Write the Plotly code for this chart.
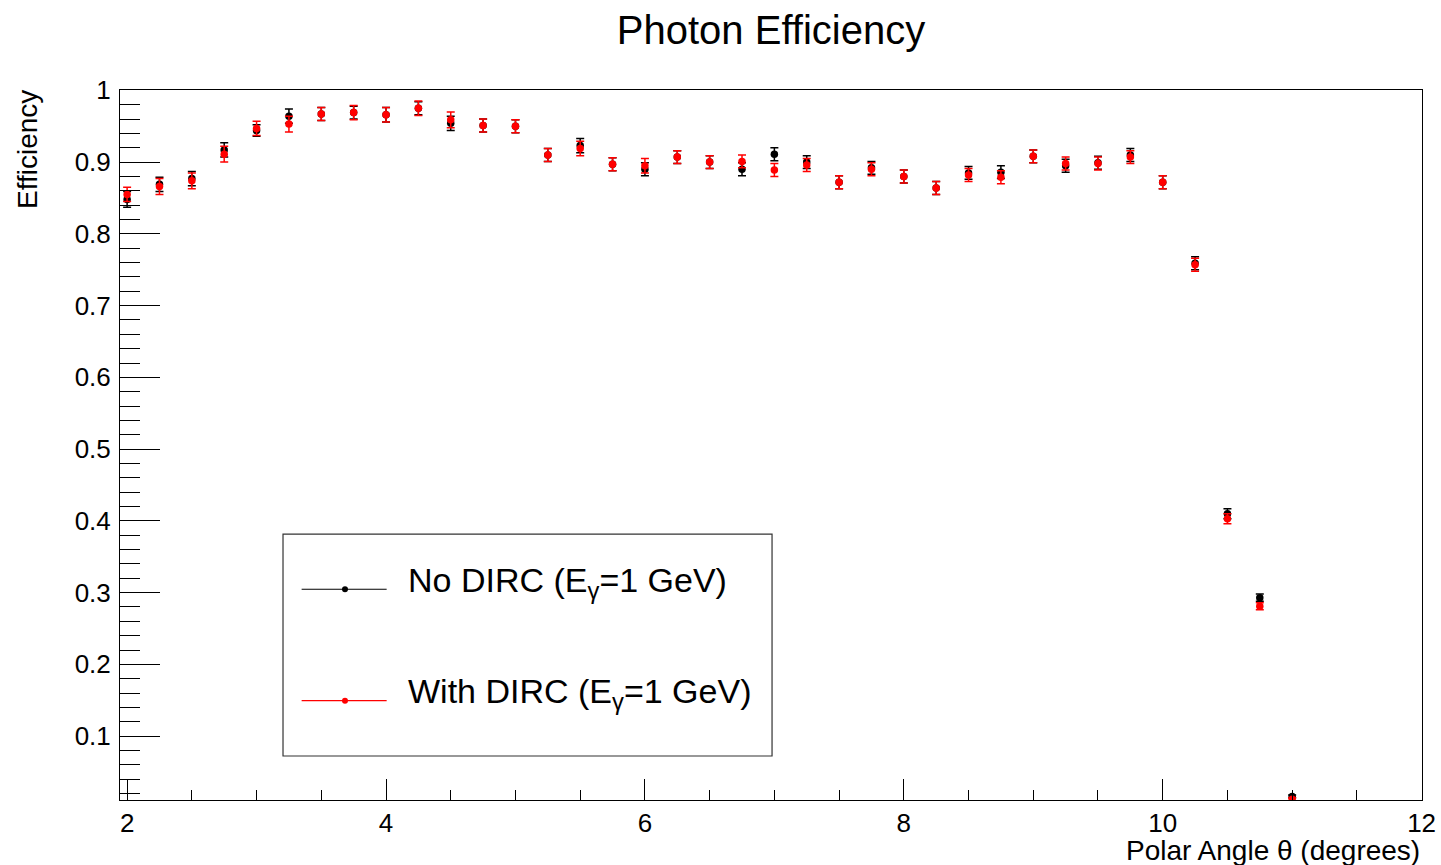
import plotly.graph_objects as go

# polar angle bins (degrees)
theta = [2.0, 2.25, 2.5, 2.75, 3.0, 3.25, 3.5, 3.75, 4.0, 4.25, 4.5, 4.75, 5.0,
         5.25, 5.5, 5.75, 6.0, 6.25, 6.5, 6.75, 7.0, 7.25, 7.5, 7.75, 8.0, 8.25,
         8.5, 8.75, 9.0, 9.25, 9.5, 9.75, 10.0, 10.25, 10.5, 10.75, 11.0]

eff_no_dirc = [0.848, 0.869, 0.877, 0.917, 0.944, 0.964, 0.967, 0.969, 0.966, 0.975,
               0.954, 0.951, 0.950, 0.910, 0.923, 0.897, 0.890, 0.907, 0.900, 0.890,
               0.911, 0.900, 0.872, 0.892, 0.880, 0.864, 0.885, 0.886, 0.908, 0.895,
               0.899, 0.910, 0.872, 0.759, 0.410, 0.293, 0.016]
err_no_dirc = [0.011, 0.010, 0.010, 0.010, 0.008, 0.010, 0.009, 0.009, 0.010, 0.009,
               0.010, 0.009, 0.009, 0.009, 0.010, 0.009, 0.009, 0.009, 0.009, 0.009,
               0.009, 0.009, 0.009, 0.009, 0.009, 0.009, 0.009, 0.009, 0.009, 0.009,
               0.009, 0.009, 0.009, 0.009, 0.007, 0.005, 0.002]

eff_with_dirc = [0.855, 0.866, 0.874, 0.911, 0.947, 0.953, 0.967, 0.969, 0.966, 0.975,
                 0.959, 0.951, 0.950, 0.910, 0.919, 0.897, 0.895, 0.907, 0.900, 0.901,
                 0.889, 0.896, 0.872, 0.890, 0.880, 0.864, 0.882, 0.879, 0.908, 0.898,
                 0.898, 0.907, 0.872, 0.757, 0.403, 0.281, 0.012]
err_with_dirc = [0.010, 0.011, 0.011, 0.011, 0.010, 0.011, 0.009, 0.010, 0.010, 0.010,
                 0.011, 0.009, 0.009, 0.009, 0.010, 0.009, 0.010, 0.009, 0.009, 0.009,
                 0.009, 0.009, 0.009, 0.009, 0.009, 0.009, 0.009, 0.009, 0.009, 0.009,
                 0.009, 0.009, 0.009, 0.009, 0.007, 0.005, 0.002]

FONT = "Liberation Sans, Arial, Helvetica, sans-serif"

fig = go.Figure()
fig.add_trace(go.Scatter(
    x=theta, y=eff_no_dirc, mode="markers", name="No DIRC",
    marker=dict(color="black", size=7.5),
    error_y=dict(type="data", array=err_no_dirc, color="black", thickness=1.5, width=4),
    showlegend=False,
))
fig.add_trace(go.Scatter(
    x=theta, y=eff_with_dirc, mode="markers", name="With DIRC",
    marker=dict(color="#ff0000", size=7.5),
    error_y=dict(type="data", array=err_with_dirc, color="#ff0000", thickness=1.5, width=4),
    showlegend=False,
))

# hand-made ROOT style legend box
shapes = [dict(type="rect", xref="paper", yref="paper", x0=0.1252, x1=0.5008,
               y0=0.062, y1=0.3746, line=dict(color="#333333", width=1.2),
               fillcolor="white", layer="above")]
legend_rows = [(0.2968, "black", "No DIRC (E<sub>γ</sub>=1 GeV)"),
               (0.1399, "#ff0000", "With DIRC (E<sub>γ</sub>=1 GeV)")]
annotations = []
for ypos, col, label in legend_rows:
    shapes.append(dict(type="line", xref="paper", yref="paper", x0=0.1395, x1=0.2048,
                       y0=ypos, y1=ypos, line=dict(color=col, width=1.2), layer="above"))
    shapes.append(dict(type="circle", xref="paper", yref="paper",
                       xsizemode="pixel", ysizemode="pixel",
                       xanchor=0.1728, yanchor=ypos, x0=-3, x1=3, y0=-3, y1=3,
                       fillcolor=col, line=dict(color=col, width=0), layer="above"))
    annotations.append(dict(xref="paper", yref="paper", x=0.2197, y=ypos + 0.010,
                            xanchor="left", yanchor="middle", showarrow=False,
                            text=label, font=dict(family=FONT, size=34, color="black")))

annotations.append(dict(xref="paper", yref="paper", x=0, xshift=-92, y=0.9155,
                        xanchor="center", yanchor="middle", textangle=-90,
                        showarrow=False, text="Efficiency",
                        font=dict(family=FONT, size=28, color="black")))
annotations.append(dict(xref="paper", yref="paper", x=1, y=0, yshift=-50,
                        xanchor="right", yanchor="middle", showarrow=False,
                        text="Polar Angle θ (degrees)",
                        font=dict(family=FONT, size=28, color="black")))

fig.update_layout(
    width=1441, height=865,
    margin=dict(l=120, r=19, t=90, b=65, autoexpand=False),
    paper_bgcolor="white", plot_bgcolor="white",
    font=dict(family=FONT, color="black"),
    title=dict(text="Photon Efficiency", x=0.5, xref="paper", xanchor="center",
               y=1 - 30 / 865, yref="container", yanchor="middle",
               font=dict(family=FONT, size=40, color="black")),
    shapes=shapes, annotations=annotations,
)
fig.update_xaxes(
    range=[1.945, 12.003], showgrid=False, zeroline=False, automargin=False,
    showline=True, linecolor="black", linewidth=1, mirror=True,
    ticks="inside", ticklen=21, tickcolor="black", tickwidth=1,
    tick0=0, dtick=2, tickfont=dict(family=FONT, size=26),
    ticklabelstandoff=0,
    minor=dict(ticks="inside", ticklen=10, tickcolor="black", dtick=0.5, tick0=0),
)
fig.update_yaxes(
    range=[0.011, 1.0005], showgrid=False, zeroline=False, automargin=False,
    showline=True, linecolor="black", linewidth=1, mirror=True,
    ticks="inside", ticklen=40, tickcolor="black", tickwidth=1,
    tick0=0, dtick=0.1, tickfont=dict(family=FONT, size=26),
    ticklabelstandoff=3,
    minor=dict(ticks="inside", ticklen=20, tickcolor="black", dtick=0.02, tick0=0),
)

# the page's default body margin would push the figure off by 8px
fig.write_html("out.html", config={"displayModeBar": False},
               post_script="document.body.style.margin='0';document.body.style.overflow='hidden';")
